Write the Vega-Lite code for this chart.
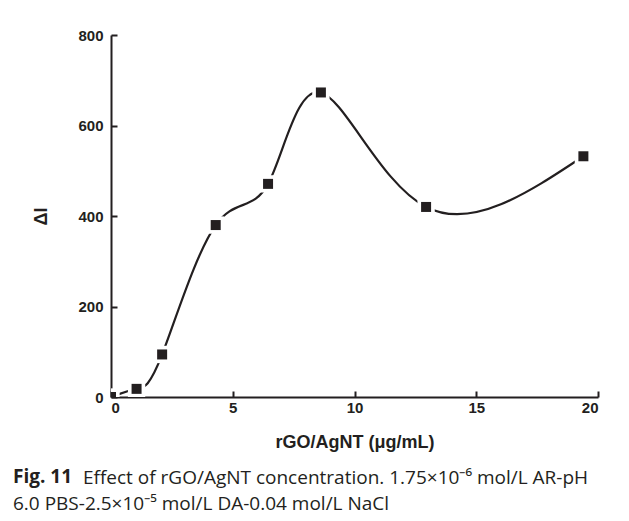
{
  "$schema": "https://vega.github.io/schema/vega-lite/v6.json",
  "width": 487,
  "height": 362,
  "autosize": {"type": "none"},
  "padding": {"left": 111, "top": 35, "right": 31, "bottom": 124},
  "background": "white",
  "config": {
    "view": {"stroke": null},
    "axis": {
      "domainColor": "#231f20",
      "domainWidth": 2,
      "tickColor": "#231f20",
      "tickWidth": 2,
      "tickSize": -6,
      "grid": false,
      "labelFont": "Liberation Sans",
      "labelFontWeight": "bold",
      "labelFontSize": 15,
      "labelColor": "#231f20",
      "titleFont": "Liberation Sans",
      "titleFontWeight": "bold",
      "titleFontSize": 18,
      "titleColor": "#231f20",
      "zindex": 1
    }
  },
  "title": {
    "text": "Fig. 11",
    "subtitle": ["\u2800\u2800\u2800\u2800\u2800Effect of rGO/AgNT concentration. 1.75×10⁻⁶ mol/L AR-pH", "6.0 PBS-2.5×10⁻⁵ mol/L DA-0.04 mol/L NaCl"],
    "orient": "bottom",
    "anchor": "start",
    "frame": "group",
    "dx": -98,
    "offset": 17,
    "font": "Open Sans",
    "fontSize": 19,
    "fontWeight": "bold",
    "color": "#231f20",
    "subtitleFont": "Open Sans",
    "subtitleFontSize": 19,
    "subtitleFontWeight": "normal",
    "subtitleColor": "#231f20",
    "subtitleLineHeight": 26,
    "subtitlePadding": -18
  },
  "data": {
    "values": [
      {"c": 0, "dI": 0},
      {"c": 1.05, "dI": 18},
      {"c": 2.1, "dI": 94},
      {"c": 4.3, "dI": 380},
      {"c": 6.45, "dI": 471},
      {"c": 8.62, "dI": 673},
      {"c": 12.94, "dI": 420},
      {"c": 19.4, "dI": 532}
    ]
  },
  "encoding": {
    "x": {
      "field": "c",
      "type": "quantitative",
      "scale": {"domain": [0, 20], "nice": false, "zero": false},
      "axis": {"values": [0, 5, 10, 15, 20], "labelPadding": 9, "title": "rGO/AgNT (μg/mL)", "titlePadding": 18}
    },
    "y": {
      "field": "dI",
      "type": "quantitative",
      "scale": {"domain": [0, 800], "nice": false},
      "axis": {"values": [0, 200, 400, 600, 800], "labelPadding": 14, "title": "ΔI", "titlePadding": 27}
    }
  },
  "layer": [
    {"mark": {"type": "line", "interpolate": "natural", "color": "#231f20", "strokeWidth": 2.2, "clip": true}},
    {"mark": {"type": "point", "shape": "square", "filled": true, "color": "white", "opacity": 1, "size": 300, "clip": true}},
    {"mark": {"type": "point", "shape": "square", "filled": true, "color": "#231f20", "opacity": 1, "size": 100, "clip": true}}
  ]
}
